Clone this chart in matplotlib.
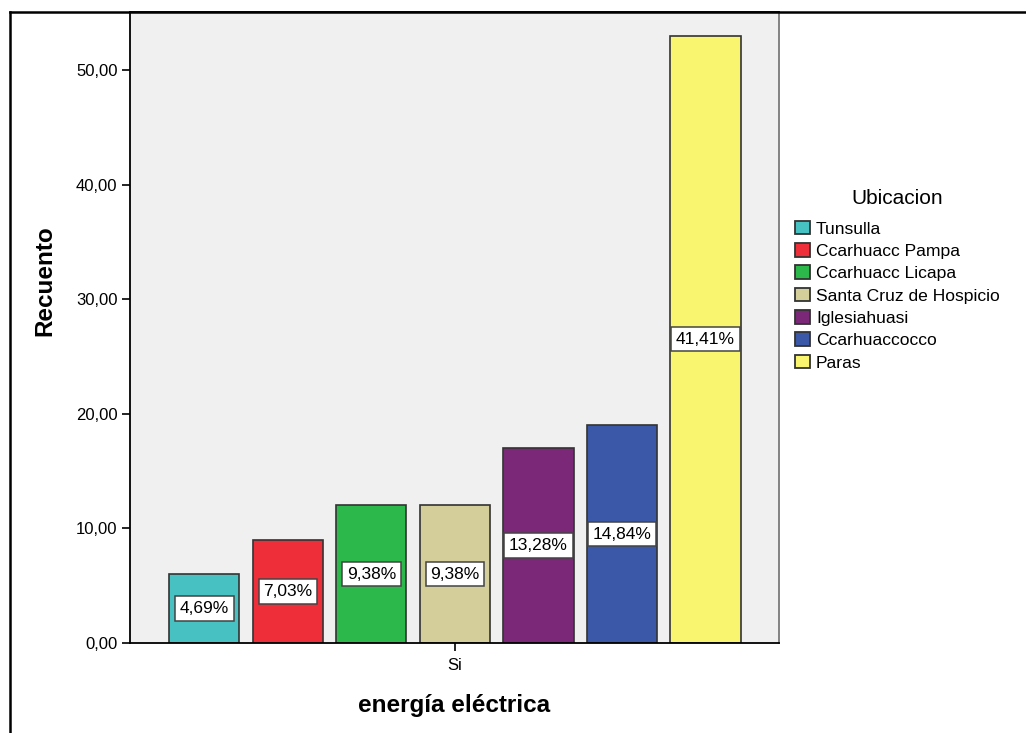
import matplotlib.pyplot as plt
from matplotlib.lines import Line2D
from matplotlib.patches import Patch
from matplotlib.ticker import FuncFormatter, MultipleLocator

plt.rcParams['font.family'] = ['Liberation Sans', 'DejaVu Sans']

# counts per location for "energía eléctrica = Si"
ubicaciones = ["Tunsulla", "Ccarhuacc Pampa", "Ccarhuacc Licapa",
               "Santa Cruz de Hospicio", "Iglesiahuasi", "Ccarhuaccocco", "Paras"]
recuento = [6, 9, 12, 12, 17, 19, 53]
porcentajes = ["4,69%", "7,03%", "9,38%", "9,38%", "13,28%", "14,84%", "41,41%"]
colores = ["#48C1C2", "#EE2F3A", "#2DB84B", "#D4CE9A", "#7C2879", "#3B57A8", "#FAF56F"]
categoria = "Si"

W, H = 1026, 733
fig = plt.figure(figsize=(W / 100, H / 100), dpi=100)
fig.patch.set_facecolor("white")

# outer frame (left and top edges only)
fig.add_artist(Line2D([10 / W, 10 / W], [0, (H - 12) / H], color="black", lw=1.8))
fig.add_artist(Line2D([10 / W, 1], [(H - 12) / H, (H - 12) / H], color="black", lw=1.8))

ax = fig.add_axes([130 / W, (H - 643) / H, (779 - 130) / W, (643 - 12) / H])
ax.set_facecolor("#F0F0F0")

xs = list(range(len(recuento)))
ax.bar(xs, recuento, width=0.84, color=colores, edgecolor="#333333", linewidth=1.2, zorder=2)

for x, v, p in zip(xs, recuento, porcentajes):
    ax.text(x, v / 2, p, ha="center", va="center", fontsize=12.5, zorder=3,
            bbox=dict(boxstyle="square,pad=0.27", facecolor="white",
                      edgecolor="#444444", linewidth=1.1))

ax.set_xlim(-0.89, 6.88)
ax.set_ylim(0, 55.06)
ax.yaxis.set_major_locator(MultipleLocator(10))
ax.yaxis.set_major_formatter(FuncFormatter(lambda v, _: f"{v:.2f}".replace(".", ",")))
ax.set_xticks([3])
ax.set_xticklabels([categoria])
ax.tick_params(axis="both", direction="out", length=6, width=1.2, colors="black",
               labelsize=12, pad=3)
ax.tick_params(axis="x", pad=5)

for side in ["left", "bottom", "top"]:
    ax.spines[side].set_color("black")
    ax.spines[side].set_linewidth(1.3)
ax.spines["right"].set_color("#7a7a7a")
ax.spines["right"].set_linewidth(1.3)

ax.set_ylabel("Recuento", fontsize=17.5, fontweight="bold")
ax.yaxis.set_label_coords(-0.113, 0.575)
ax.set_xlabel("energía eléctrica", fontsize=17.5, fontweight="bold", labelpad=15)

handles = [Patch(facecolor=c, edgecolor="#333333", linewidth=1.3) for c in colores]
leg = ax.legend(handles, ubicaciones, loc="upper left",
                bbox_to_anchor=(795 / W, (H - 189) / H), bbox_transform=fig.transFigure,
                frameon=False, fontsize=12.6, title="Ubicacion", title_fontsize=15,
                handlelength=0.85, handleheight=0.85, handletextpad=0.35,
                labelspacing=0.36, borderpad=0, borderaxespad=0)
leg._legend_box.sep = 9

fig.savefig("out.png", dpi=100)
